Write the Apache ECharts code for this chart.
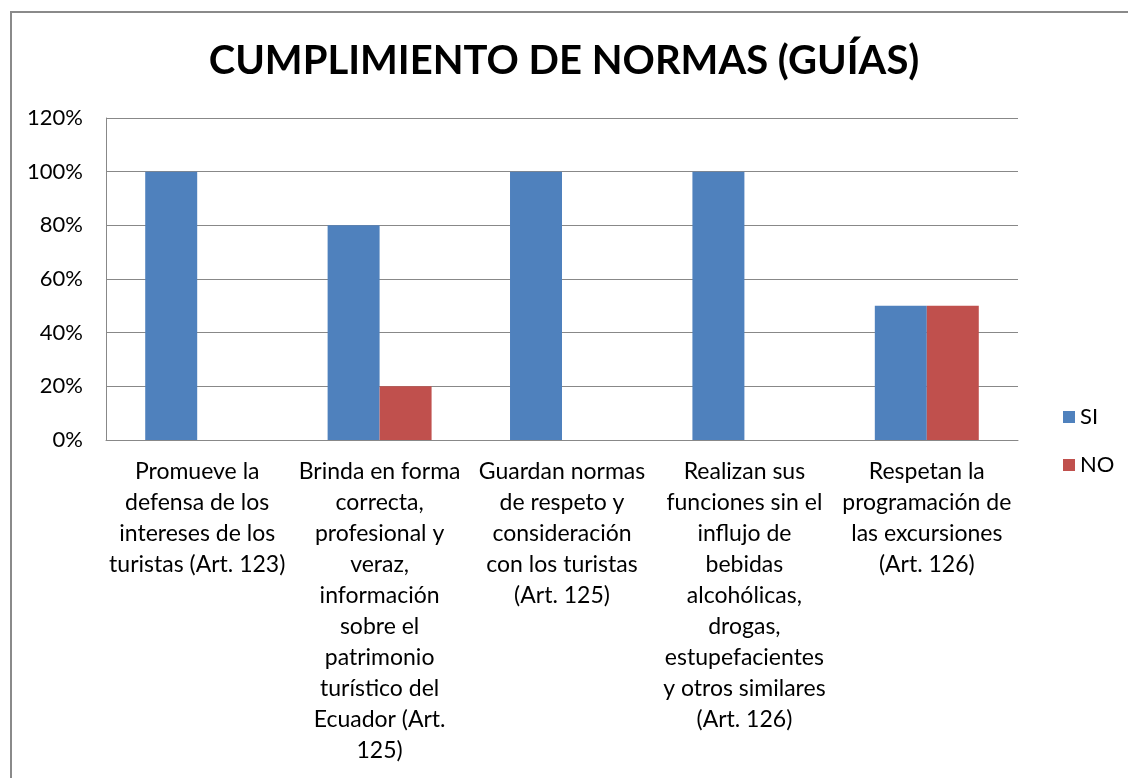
<!DOCTYPE html>
<html>
<head>
<meta charset="utf-8">
<script src="https://cdn.jsdelivr.net/npm/echarts@6/dist/echarts.min.js"></script>
<style>
html,body{margin:0;padding:0;background:#fff;}
#wrap{position:relative;width:1128px;height:778px;overflow:hidden;}
#frame{position:absolute;left:10px;top:11px;width:1140px;height:800px;border:2px solid #8a8a8a;box-sizing:border-box;}
#chart{position:absolute;left:0;top:0;width:1128px;height:778px;}
</style>
</head>
<body>
<div id="wrap"><div id="frame"></div><div id="chart"></div></div>
<script>
const categories = [
  "Promueve la\ndefensa de los\nintereses de los\nturistas (Art. 123)",
  "Brinda en forma\ncorrecta,\nprofesional y\nveraz,\ninformación\nsobre el\npatrimonio\nturístico del\nEcuador (Art.\n125)",
  "Guardan normas\nde respeto y\nconsideración\ncon los turistas\n(Art. 125)",
  "Realizan sus\nfunciones sin el\ninflujo de\nbebidas\nalcohólicas,\ndrogas,\nestupefacientes\ny otros similares\n(Art. 126)",
  "Respetan la\nprogramación de\nlas excursiones\n(Art. 126)"
];
const siValues = [1.0, 0.8, 1.0, 1.0, 0.5];
const noValues = [0, 0.2, 0, 0, 0.5];
const yTicks = [0, 0.2, 0.4, 0.6, 0.8, 1.0, 1.2];
const titleText = "CUMPLIMIENTO DE NORMAS (GUÍAS)";

const FONT = "Lato";
const chart = echarts.init(document.getElementById('chart'));
chart.setOption({
  animation: false,
  title: {
    text: titleText, left: 'center', top: 36,
    textStyle: {fontFamily: FONT, fontSize: 40, fontWeight: 'bold', color: '#000'}
  },
  legend: {
    orient: 'vertical', left: 1058, top: 401, itemGap: 26,
    itemWidth: 12, itemHeight: 12, icon: 'rect',
    textStyle: {fontFamily: FONT, fontSize: 22, color: '#000'},
    data: ['SI', 'NO']
  },
  grid: {left: 106, right: 110, top: 118, bottom: 338, containLabel: false},
  xAxis: {
    type: 'category', data: categories,
    axisTick: {show: false},
    axisLine: {lineStyle: {color: '#888', width: 1}},
    axisLabel: {interval: 0, fontFamily: FONT, fontSize: 23, lineHeight: 31, color: '#000', margin: 16, align: 'center'}
  },
  yAxis: {
    type: 'value', min: yTicks[0], max: yTicks[yTicks.length-1], interval: 0.2,
    axisLine: {show: true, lineStyle: {color: '#888'}},
    axisTick: {show: false},
    splitLine: {lineStyle: {color: '#888', width: 1}},
    axisLabel: {fontFamily: FONT, fontSize: 22, color: '#000', margin: 23,
      formatter: v => Math.round(v*100) + '%'}
  },
  series: [
    {name: 'SI', type: 'bar', data: siValues, barGap: '0%', barCategoryGap: '43%', itemStyle: {color: '#4F81BD'}},
    {name: 'NO', type: 'bar', data: noValues, itemStyle: {color: '#C0504D'}}
  ]
});
</script>
</body>
</html>
